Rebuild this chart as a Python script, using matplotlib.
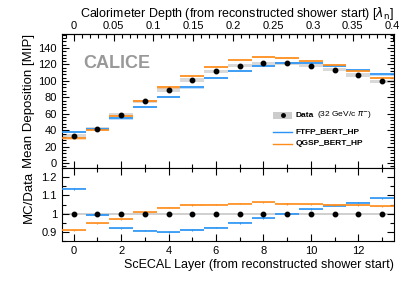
import numpy as np
import matplotlib
matplotlib.use('Agg')
from matplotlib import pyplot as plt
from matplotlib.ticker import MultipleLocator
from matplotlib.patches import Rectangle
from matplotlib.lines import Line2D

plt.rcParams['font.family'] = ['Liberation Sans', 'DejaVu Sans']

layers = np.arange(14)
data = [33, 42, 59, 75, 89, 101, 111.5, 118.5, 121.5, 121.5, 118.5, 113.5, 107, 99.5]
ftfp = [37.5, 41.7, 54.3, 68, 80, 92, 103, 112.5, 118.5, 121.5, 121.5, 118.5, 113.5, 107.8]
qgsp = [30, 39.8, 57.2, 75.6, 92, 105.8, 117, 125, 129, 128, 124.5, 119, 112, 103.5]
data_err = [2.0, 2.0, 2.0, 2.0, 2.0, 2.0, 2.0, 2.0, 2.0, 2.0, 2.0, 2.0, 2.0, 2.0]

BLUE = '#2a93f5'
ORANGE = '#ff8c1a'
depth_per_layer = 0.4 / 13.45

fig = plt.figure(figsize=(4.15, 2.81), dpi=100)
ax = fig.add_axes([0.149, 0.402, 0.800, 0.477])
axr = fig.add_axes([0.149, 0.142, 0.800, 0.260], sharex=ax)

data = np.array(data)
ftfp = np.array(ftfp)
qgsp = np.array(qgsp)
data_err = np.array(data_err)

# top panel
for i, x in enumerate(layers):
    ax.add_patch(Rectangle((x - 0.5, data[i] - data_err[i]), 1, 2 * data_err[i],
                           color='#d9d9d9', lw=0, zorder=1))
    ax.add_patch(Rectangle((x - 0.5, ftfp[i] - 1.3), 1, 2.6, color=BLUE, alpha=0.3, lw=0, zorder=2))
    ax.add_patch(Rectangle((x - 0.5, qgsp[i] - 1.3), 1, 2.6, color=ORANGE, alpha=0.3, lw=0, zorder=2))
ax.hlines(ftfp, layers - 0.5, layers + 0.5, color=BLUE, lw=1.2, zorder=3)
ax.hlines(qgsp, layers - 0.5, layers + 0.5, color=ORANGE, lw=1.2, zorder=3)
ax.plot(layers, data, 'o', color='black', ms=3.2, zorder=5)

ax.set_xlim(-0.5, 13.5)
ax.set_ylim(-6, 157)
ax.set_ylabel('Mean Deposition [MIP]', fontsize=9.5)
ax.yaxis.set_major_locator(MultipleLocator(20))
ax.yaxis.set_minor_locator(MultipleLocator(4))
ax.xaxis.set_major_locator(MultipleLocator(2))
ax.xaxis.set_minor_locator(MultipleLocator(1))
ax.tick_params(which='both', direction='in', left=True, right=True, bottom=True, top=False,
               labelbottom=False, labelsize=8, length=5, width=0.8)
ax.tick_params(which='minor', length=3)

sec = ax.secondary_xaxis('top', functions=(lambda l: l * depth_per_layer, lambda d: d / depth_per_layer))
sec.xaxis.set_major_locator(MultipleLocator(0.05))
sec.xaxis.set_minor_locator(MultipleLocator(0.01))
sec.tick_params(which='both', direction='in', labelsize=8, length=5, width=0.8, pad=2)
sec.tick_params(which='minor', length=3)
sec.set_xticks([0, 0.05, 0.1, 0.15, 0.2, 0.25, 0.3, 0.35, 0.4],
               ['0', '0.05', '0.1', '0.15', '0.2', '0.25', '0.3', '0.35', '0.4'])
sec.set_xlabel(r'Calorimeter Depth (from reconstructed shower start) [$\lambda_{\mathrm{n}}$]',
               fontsize=9, labelpad=3, loc='right')

ax.text(0.065, 0.78, 'CALICE', transform=ax.transAxes, fontsize=13, fontweight='bold',
        color='#999999', va='center', ha='left')

# legend
ax.add_patch(Rectangle((0.637, 0.365), 0.057, 0.055, transform=ax.transAxes,
                       color='#cccccc', lw=0, zorder=6))
ax.plot([0.666], [0.392], 'o', color='black', ms=2.5, transform=ax.transAxes, zorder=7)
ax.add_line(Line2D([0.637, 0.694], [0.27, 0.27], color=BLUE, lw=1.0, transform=ax.transAxes))
ax.add_line(Line2D([0.637, 0.694], [0.18, 0.18], color=ORANGE, lw=1.0, transform=ax.transAxes))
ax.text(0.703, 0.392, 'Data', transform=ax.transAxes, fontsize=6, fontweight='bold', va='center')
ax.text(0.768, 0.392, r'(32 GeV/c $\pi^{-}$)', transform=ax.transAxes, fontsize=6, va='center')
ax.text(0.703, 0.27, 'FTFP_BERT_HP', transform=ax.transAxes, fontsize=6, fontweight='bold', va='center')
ax.text(0.703, 0.18, 'QGSP_BERT_HP', transform=ax.transAxes, fontsize=6, fontweight='bold', va='center')

# ratio panel
r_ftfp = ftfp / data
r_qgsp = qgsp / data
edges = np.append(layers - 0.5, 13.5)
axr.fill_between(edges, 0.994, 1.006, step='post', color='#d0d0d0', lw=0, zorder=1)
for r, c in ((r_ftfp, BLUE), (r_qgsp, ORANGE)):
    for i, x in enumerate(layers):
        axr.add_patch(Rectangle((x - 0.5, r[i] - 0.003), 1, 0.006, color=c, alpha=0.3, lw=0, zorder=2))
    axr.hlines(r, layers - 0.5, layers + 0.5, color=c, lw=1.2, zorder=3)
    axr.vlines(layers, r - 0.004, r + 0.004, color=c, lw=0.8, zorder=3)
axr.plot(layers, np.ones(len(layers)), 'o', color='black', ms=3.2, zorder=5)

axr.set_ylim(0.85, 1.25)
axr.set_xlim(-0.5, 13.5)
axr.set_ylabel('MC/Data', fontsize=9.5)
axr.set_xlabel('ScECAL Layer (from reconstructed shower start)', fontsize=9, loc='right', labelpad=2)
axr.yaxis.set_major_locator(MultipleLocator(0.1))
axr.yaxis.set_minor_locator(MultipleLocator(0.05))
axr.set_yticks([0.9, 1.0, 1.1, 1.2], ['0.9', '1', '1.1', '1.2'])
axr.tick_params(which='both', direction='in', left=True, right=True, top=True, bottom=True,
                labelsize=8, length=5, width=0.8)
axr.tick_params(which='minor', length=3)
ax.yaxis.set_label_coords(-0.082, 0.5)
axr.yaxis.set_label_coords(-0.082, 0.6)

fig.savefig('out.png', dpi=100)
